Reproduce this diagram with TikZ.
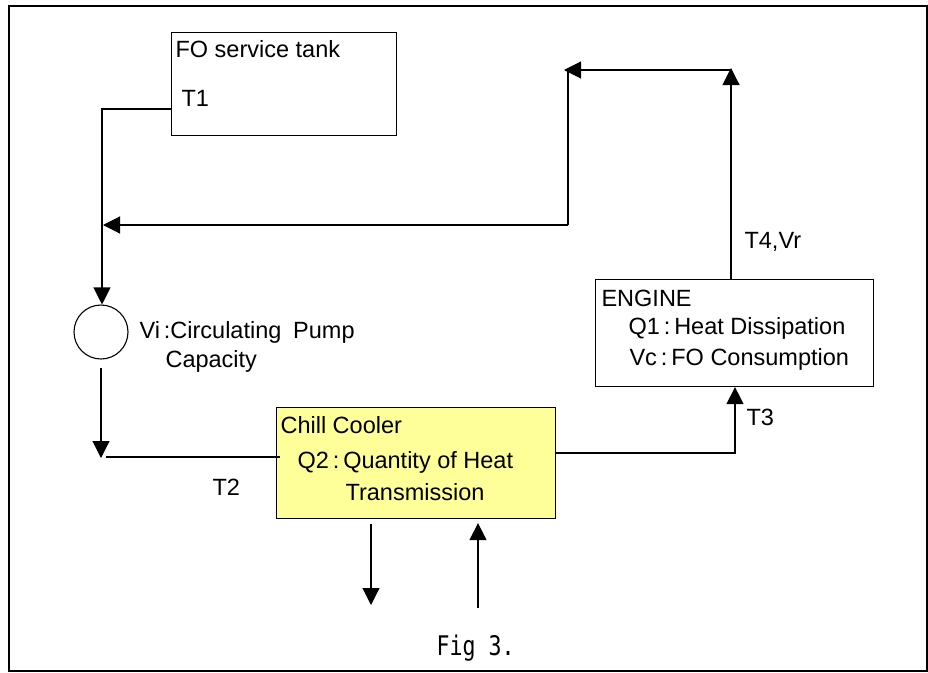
\documentclass[tikz,border=0pt]{standalone}
\usepackage{fontspec}
\setmainfont{Liberation Sans}
\newfontfamily\figfont{DejaVu Sans Mono}
\usetikzlibrary{arrows.meta}
\definecolor{coolfill}{RGB}{255,255,153}
\begin{document}
\begin{tikzpicture}[x=1pt,y=-1pt,
  line width=1.1pt,
  box/.style={draw, rectangle, anchor=north west, inner sep=0pt, line width=1.1pt},
  lbl/.style={anchor=base west, inner sep=0pt, font=\fontsize{23.5}{28}\selectfont},
  arr/.style={-{Triangle[length=17pt,width=17pt]}},
]
\useasboundingbox (0,0) rectangle (928,672);
\node[draw, line width=1.8pt, anchor=north west, minimum width=918pt, minimum height=665pt, inner sep=0pt] (frame) at (8,5) {};
% FO service tank
\node[box, minimum width=225pt, minimum height=103pt] (tank) at (171,32) {};
\node[lbl] (tanklbl) at (175,57) {FO service tank};
\node[lbl] (t1) at (181,106) {T1};
% pump
\node[draw, circle, minimum size=54pt, inner sep=0pt] (pump) at (101,332) {};
\node[lbl] (vi) at (139,338) {Vi\,:Circulating\enspace Pump};
\node[lbl] (cap) at (165,367) {Capacity};
% chill cooler
\node[box, fill=coolfill, minimum width=279pt, minimum height=111pt] (cooler) at (276,407) {};
\node[lbl] (cc) at (280,433) {Chill Cooler};
\node[lbl] (q2) at (297,468) {Q2\,:\,Quantity of Heat};
\node[lbl] (tr) at (345,500) {Transmission};
\node[lbl] (t2) at (212,495) {T2};
% engine
\node[box, minimum width=278pt, minimum height=107pt] (engine) at (595,279) {};
\node[lbl] (eng) at (601,306) {ENGINE};
\node[lbl] (q1) at (628,334) {Q1\,:\,Heat Dissipation};
\node[lbl] (vc) at (629,365) {Vc\,:\,FO Consumption};
\node[lbl] (t3) at (746,425) {T3};
\node[lbl] (t4) at (744,248) {T4,Vr};
\node[anchor=base west, inner sep=0pt, font=\figfont\fontsize{27}{30}\selectfont] (fig) at (436,655) {\scalebox{0.8}[1]{Fig 3.}};
% coordinates
\coordinate (a1) at (102,109);
\coordinate (a2) at (101,458);
\coordinate (a3) at (106,457);
\coordinate (a4) at (735,453);
\coordinate (a5) at (731,68);
\coordinate (a6) at (564,70);
\coordinate (a7) at (568,225);
\coordinate (a8) at (103,225);
\coordinate (b2) at (371,605);
\coordinate (b3) at (478,608);
% connectors
\draw[arr] (tank.west |- a1) -- (a1) -- (a1 |- pump.north);
\draw[arr, shorten <=8pt] (pump.south) -- (a2);
\draw (a3) -- ([xshift=4pt]cooler.west |- a3);
\draw[arr] (cooler.east |- a4) -- (a4) -- (a4 |- engine.south);
\draw[arr] (a5 |- engine.north) -- (a5);
\draw[arr] (a5 |- a6) -- (a6);
\draw (a7 |- a6) -- (a7);
\draw[arr] (a7) -- (a8);
\draw[arr, shorten <=5pt] (cooler.south -| b2) -- (b2);
\draw[arr, shorten >=4pt] (b3) -- (cooler.south -| b3);
\end{tikzpicture}
\end{document}
